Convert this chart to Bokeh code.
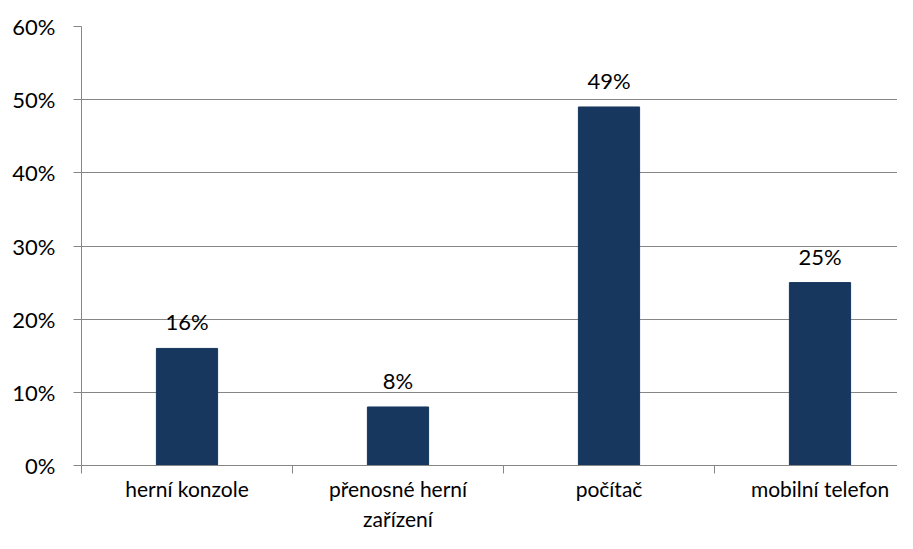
from bokeh.plotting import figure
from bokeh.models import ColumnDataSource, FixedTicker, NumeralTickFormatter, LabelSet, Range1d
from bokeh.core.properties import value
from bokeh.embed import file_html
from bokeh.resources import INLINE

categories = ["herní konzole", "přenosné herní\nzařízení", "počítač", "mobilní telefon"]
values = [0.16, 0.08, 0.49, 0.25]
value_labels = ["16%", "8%", "49%", "25%"]
y_ticks = [0, 0.1, 0.2, 0.3, 0.4, 0.5, 0.6]

xs = [i + 0.5 for i in range(len(categories))]
src = ColumnDataSource(dict(x=xs, top=values, lab=value_labels))

FONT = "Lato"
FS = "22px"
GRAY = "#868686"

p = figure(width=897, height=533, output_backend="svg", toolbar_location=None,
           x_range=Range1d(0, 816 / 211), y_range=Range1d(0, 0.6),
           min_border_left=81, min_border_right=0, min_border_top=26, min_border_bottom=67)
p.outline_line_color = None
p.background_fill_color = "white"
p.border_fill_color = "white"

p.vbar(x="x", top="top", width=0.29, bottom=0, source=src, color="#17375E")

labels = LabelSet(x="x", y="top", text="lab", source=src, text_align="center",
                  text_baseline="alphabetic", y_offset=18, text_font=value(FONT),
                  text_font_size=value(FS), text_color="black")
p.add_layout(labels)

# x axis
p.xaxis.ticker = FixedTicker(ticks=xs, minor_ticks=[0, 1, 2, 3, 4])
p.xaxis.major_label_overrides = {x: c for x, c in zip(xs, categories)}
p.xaxis.major_tick_line_color = None
p.xaxis.major_tick_out = 0
p.xaxis.major_tick_in = 0
p.xaxis.minor_tick_line_color = GRAY
p.xaxis.minor_tick_out = 8
p.xaxis.minor_tick_in = 0
p.xaxis.axis_line_color = GRAY
p.xaxis.major_label_text_font = FONT
p.xaxis.major_label_text_font_size = "21px"
p.xaxis.major_label_text_color = "black"
p.xaxis.major_label_standoff = 2
p.xaxis.major_label_orientation = "horizontal"
p.xgrid.grid_line_color = None

# y axis
p.yaxis.ticker = FixedTicker(ticks=y_ticks)
p.yaxis.formatter = NumeralTickFormatter(format="0%")
p.yaxis.major_tick_line_color = GRAY
p.yaxis.major_tick_out = 8
p.yaxis.major_tick_in = 0
p.yaxis.minor_tick_line_color = None
p.yaxis.axis_line_color = GRAY
p.yaxis.major_label_text_font = FONT
p.yaxis.major_label_text_font_size = FS
p.yaxis.major_label_text_color = "black"
p.yaxis.major_label_standoff = 18
p.ygrid.grid_line_color = GRAY
p.ygrid.grid_line_width = 1

open("out.html", "w").write(file_html(p, INLINE))
